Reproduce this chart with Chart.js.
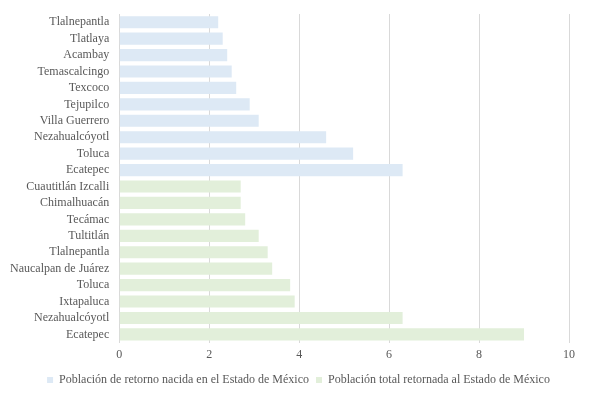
<!DOCTYPE html>
<html lang="es">
<head>
<meta charset="UTF-8">
<title>Retorno Estado de México</title>
<style>
  html, body { margin: 0; padding: 0; background: #fff; }
  #wrap { width: 589px; height: 397px; }
</style>
</head>
<body>
<div id="wrap"><canvas id="chart"></canvas></div>
<script src="https://cdn.jsdelivr.net/npm/chart.js"></script>
<script>
// municipios, de arriba hacia abajo
const nacidaCats = ["Tlalnepantla", "Tlatlaya", "Acambay", "Temascalcingo", "Texcoco",
  "Tejupilco", "Villa Guerrero", "Nezahualcóyotl", "Toluca", "Ecatepec"];
const nacidaVals = [2.2, 2.3, 2.4, 2.5, 2.6, 2.9, 3.1, 4.6, 5.2, 6.3];

const totalCats = ["Cuautitlán Izcalli", "Chimalhuacán", "Tecámac", "Tultitlán", "Tlalnepantla",
  "Naucalpan de Juárez", "Toluca", "Ixtapaluca", "Nezahualcóyotl", "Ecatepec"];
const totalVals = [2.7, 2.7, 2.8, 3.1, 3.3, 3.4, 3.8, 3.9, 6.3, 9.0];

const xTicks = [0, 2, 4, 6, 8, 10];

const labels = nacidaCats.concat(totalCats);
const blank = new Array(10).fill(null);

const txt = "#595959";
const fnt = { family: "'Liberation Serif', 'Times New Roman', serif", size: 12 };

new Chart(document.getElementById("chart"), {
  type: "bar",
  data: {
    labels: labels,
    datasets: [
      {
        label: "Población de retorno nacida en el Estado de México",
        data: nacidaVals.concat(blank),
        backgroundColor: "#dde9f5",
        barPercentage: 0.74,
        categoryPercentage: 1
      },
      {
        label: "Población total retornada al Estado de México",
        data: blank.concat(totalVals),
        backgroundColor: "#e2efda",
        barPercentage: 0.74,
        categoryPercentage: 1
      }
    ]
  },
  options: {
    indexAxis: "y",
    responsive: true,
    maintainAspectRatio: false,
    animation: false,
    layout: { padding: { top: 14, right: 0, left: 8, bottom: 1 } },
    scales: {
      x: {
        min: 0,
        max: 10,
        afterBuildTicks: (ax) => { ax.ticks = xTicks.map(v => ({ value: v })); },
        afterFit: (ax) => { ax.paddingRight = 20; },
        grid: { color: "#d9d9d9", drawTicks: false },
        border: { display: false },
        ticks: { color: txt, font: fnt, padding: 5 }
      },
      y: {
        stacked: true,
        grid: { display: false },
        border: { display: false },
        ticks: { color: txt, font: fnt, padding: 2, autoSkip: false }
      }
    },
    plugins: {
      legend: {
        position: "bottom",
        labels: { color: txt, font: fnt, boxWidth: 6, boxHeight: 6, padding: 7 }
      },
      tooltip: { enabled: false }
    }
  }
});
</script>
</body>
</html>
